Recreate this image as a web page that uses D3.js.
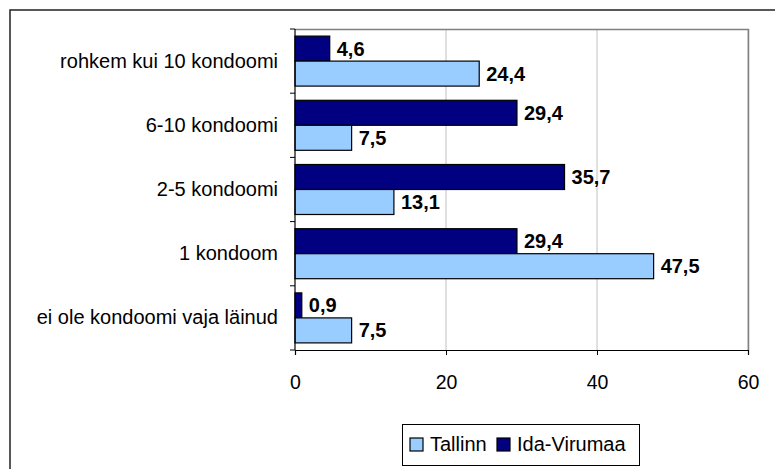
<!DOCTYPE html>
<html>
<head>
<meta charset="utf-8">
<script src="https://cdn.jsdelivr.net/npm/d3@7"></script>
<style>
body { margin:0; background:#fff; }
text { font-family: "Liberation Sans", Arial, sans-serif; }
</style>
</head>
<body>
<div id="main"></div>
<script>
// data
const categories = ["rohkem kui 10 kondoomi", "6-10 kondoomi", "2-5 kondoomi", "1 kondoom", "ei ole kondoomi vaja läinud"]
const idaVirumaa = [4.6, 29.4, 35.7, 29.4, 0.9]
const tallinn = [24.4, 7.5, 13.1, 47.5, 7.5]
const xTicks = [0, 20, 40, 60]
const seriesNames = ["Tallinn", "Ida-Virumaa"]
const seriesColors = {"Tallinn": "#99ccff", "Ida-Virumaa": "#000080"}

let svg = d3.select("#main").append("svg").attr("width", 775).attr("height", 469)

// outer frame
svg.append("rect").attr("x", 10).attr("y", 10).attr("width", 780).attr("height", 480)
    .attr("fill", "white").attr("stroke", "#222").attr("stroke-width", 1.5)

let pLeft = 295, pRight = 748, pTop = 29, pBottom = 350

let x = d3.scaleLinear().domain([0, 60]).range([pLeft, pRight])
let y = d3.scaleBand().domain(categories).range([pTop, pBottom])

// gridlines
svg.append("g").selectAll("line").data(xTicks.slice(1))
    .enter().append("line")
    .attr("x1", d => x(d)).attr("x2", d => x(d))
    .attr("y1", pTop).attr("y2", pBottom)
    .attr("stroke", "#c0c0c0").attr("stroke-width", 1)

// plot border (top/right in gray)
svg.append("path")
    .attr("d", `M${pLeft},${pTop + 0.5}H${pRight + 0.5}V${pBottom}`)
    .attr("fill", "none").attr("stroke", "#808080").attr("stroke-width", 1.5)

let barH = 25
let pad = (y.bandwidth() - 2 * barH) / 2

let rows = categories.map((c, i) => ({cat: c, ida: idaVirumaa[i], tal: tallinn[i]}))

let g = svg.append("g")
// Ida-Virumaa bars on top, Tallinn below
rows.forEach(r => {
    let y0 = y(r.cat) + pad
    ;[["Ida-Virumaa", r.ida, y0], ["Tallinn", r.tal, y0 + barH]].forEach(s => {
        g.append("rect")
            .attr("x", x(0)).attr("y", s[2])
            .attr("width", x(s[1]) - x(0)).attr("height", barH)
            .attr("fill", seriesColors[s[0]])
            .attr("stroke", "black").attr("stroke-width", 1.2)
        g.append("text")
            .attr("x", x(s[1]) + 7).attr("y", s[2] + barH / 2 + 7)
            .style("font-size", "20px").style("font-weight", "bold")
            .text(d3.format(".1f")(s[1]).replace(".", ","))
    })
})

// y axis
let yAxis = svg.append("g").attr("transform", `translate(${pLeft},0)`)
yAxis.append("line").attr("x1", 0).attr("x2", 0).attr("y1", pTop).attr("y2", pBottom)
    .attr("stroke", "black").attr("stroke-width", 1.2)
yAxis.selectAll(".tk").data(d3.range(categories.length + 1))
    .enter().append("line")
    .attr("x1", -5).attr("x2", 0)
    .attr("y1", d => pTop + d * y.step()).attr("y2", d => pTop + d * y.step())
    .attr("stroke", "black")
yAxis.selectAll("text").data(categories)
    .enter().append("text")
    .attr("x", -17).attr("y", d => y(d) + y.bandwidth() / 2 + 6.5)
    .attr("text-anchor", "end")
    .style("font-size", "20px")
    .text(d => d)

// x axis
let xAxis = svg.append("g").attr("transform", `translate(0,${pBottom})`)
    .call(d3.axisBottom(x).tickValues(xTicks).tickSize(5).tickPadding(20))
xAxis.select(".domain").attr("stroke", "black").attr("stroke-width", 1.2)
xAxis.selectAll(".tick line").attr("stroke", "black")
xAxis.selectAll(".tick text").style("font-size", "19.5px").style("font-family", "Liberation Sans, Arial, sans-serif").attr("fill", "black")

// legend
let lg = svg.append("g")
lg.append("rect").attr("x", 402.5).attr("y", 424.5).attr("width", 237).attr("height", 41)
    .attr("fill", "white").attr("stroke", "black").attr("stroke-width", 1)
let legendX = [410, 497]
seriesNames.forEach((n, i) => {
    lg.append("rect").attr("x", legendX[i]).attr("y", 438).attr("width", 13).attr("height", 13)
        .attr("fill", seriesColors[n]).attr("stroke", "black").attr("stroke-width", 1.2)
    lg.append("text").attr("x", legendX[i] + 20).attr("y", 451)
        .style("font-size", "20px").text(n)
})
</script>
</body>
</html>
